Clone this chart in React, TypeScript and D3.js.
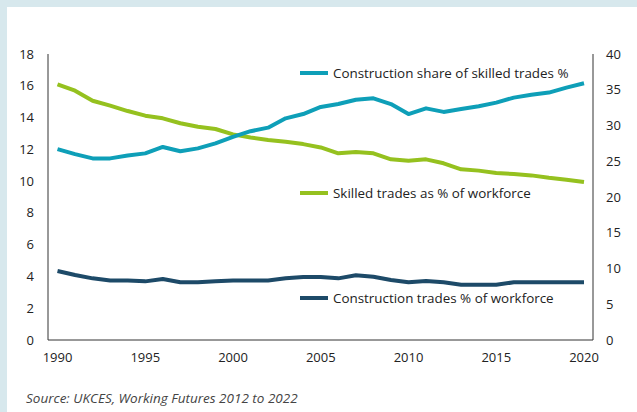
import React from 'react';
import * as d3 from 'd3';

const years = d3.range(1990, 2021);

// right axis (0-40)
const constructionShare = [
  26.7, 26.0, 25.4, 25.4, 25.8, 26.1, 27.0, 26.4, 26.8, 27.5,
  28.4, 29.2, 29.7, 31.0, 31.6, 32.6, 33.0, 33.6, 33.8, 33.0,
  31.6, 32.4, 31.9, 32.3, 32.7, 33.2, 33.9, 34.3, 34.6, 35.3, 35.9,
];
// left axis (0-18)
const skilledTrades = [
  16.09, 15.69, 15.06, 14.75, 14.41, 14.12, 13.95, 13.64, 13.42, 13.28,
  12.94, 12.75, 12.59, 12.48, 12.33, 12.12, 11.75, 11.83, 11.75, 11.37,
  11.28, 11.37, 11.12, 10.74, 10.66, 10.51, 10.45, 10.36, 10.21, 10.09, 9.94,
];
const constructionTrades = [
  4.34, 4.09, 3.88, 3.75, 3.75, 3.69, 3.84, 3.63, 3.63, 3.69,
  3.75, 3.75, 3.75, 3.88, 3.96, 3.96, 3.88, 4.07, 3.98, 3.78,
  3.63, 3.71, 3.63, 3.48, 3.48, 3.48, 3.63, 3.63, 3.63, 3.63, 3.63,
];

const leftTicks = [0, 2, 4, 6, 8, 10, 12, 14, 16, 18];
const rightTicks = [0, 5, 10, 15, 20, 25, 30, 35, 40];
const xTicks = [1990, 1995, 2000, 2005, 2010, 2015, 2020];

const legendItems = [
  { label: 'Construction share of skilled trades %', color: '#0e9fb8', y: 73 },
  { label: 'Skilled trades as % of workforce', color: '#95c11f', y: 193 },
  { label: 'Construction trades % of workforce', color: '#1d4a68', y: 298 },
];

const W = 637;
const H = 412;
const font = '"Open Sans", sans-serif';

export default function App() {
  const left = 48, right = 593, top = 54, bottom = 340;
  const x = d3.scaleLinear().domain([1990, 2020]).range([57.5, 584]);
  const yL = d3.scaleLinear().domain([0, 18]).range([bottom, top]);
  const yR = d3.scaleLinear().domain([0, 40]).range([bottom, top]);

  const lineL = d3.line<number>().x((d, i) => x(years[i])).y(d => yL(d));
  const lineR = d3.line<number>().x((d, i) => x(years[i])).y(d => yR(d));

  return (
    <svg width={W} height={H} style={{ position: 'absolute', left: 0, top: 0 }}>
      <rect x={0} y={0} width={W} height={H} fill="#d7e8ed" />
      <rect x={7} y={7} width={W - 7} height={H - 7} fill="#ffffff" />

      <line x1={left} x2={left} y1={top} y2={bottom} stroke="#333" strokeWidth={1} />
      <line x1={right} x2={right} y1={top} y2={bottom} stroke="#333" strokeWidth={1} />
      <line x1={left} x2={right} y1={bottom} y2={bottom} stroke="#333" strokeWidth={1} />

      {leftTicks.map(t => (
        <text key={'l' + t} x={34} y={yL(t)} dy="0.35em" textAnchor="end"
          fontFamily={font} fontSize={13} fill="#222">{t}</text>
      ))}
      {rightTicks.map(t => (
        <text key={'r' + t} x={606} y={yR(t)} dy="0.35em" textAnchor="start"
          fontFamily={font} fontSize={13} fill="#222">{t}</text>
      ))}
      {xTicks.map(t => (
        <text key={'x' + t} x={x(t)} y={357} dy="0.35em" textAnchor="middle"
          fontFamily={font} fontSize={13} fill="#222">{t}</text>
      ))}

      <path d={lineL(skilledTrades) || ''} fill="none" stroke="#95c11f" strokeWidth={4} strokeLinejoin="round" />
      <path d={lineR(constructionShare) || ''} fill="none" stroke="#0e9fb8" strokeWidth={4} strokeLinejoin="round" />
      <path d={lineL(constructionTrades) || ''} fill="none" stroke="#1d4a68" strokeWidth={4} strokeLinejoin="round" />

      {legendItems.map(l => (
        <g key={l.label}>
          <line x1={300} x2={328} y1={l.y} y2={l.y} stroke={l.color} strokeWidth={4} />
          <text x={333} y={l.y} dy="0.35em" fontFamily={font} fontSize={13.4} fill="#222">{l.label}</text>
        </g>
      ))}

      <text x={26} y={398} dy="0.35em" fontFamily={font} fontStyle="italic" fontSize={13.5}
        fill="#444">Source: UKCES, Working Futures 2012 to 2022</text>
    </svg>
  );
}
